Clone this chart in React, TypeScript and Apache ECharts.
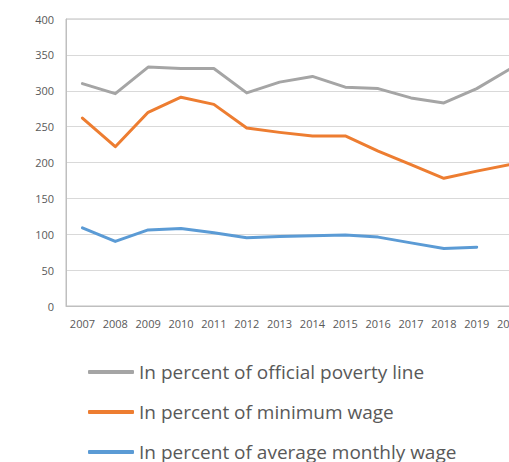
import { useEffect, useRef } from "react";
import * as echarts from "echarts";

const years = ["2007", "2008", "2009", "2010", "2011", "2012", "2013", "2014", "2015", "2016", "2017", "2018", "2019", "2020"];
const povertyLine = [310, 296, 333, 331, 331, 297, 312, 320, 305, 303, 290, 283, 303, 330];
const minimumWage = [262, 222, 270, 291, 281, 248, 242, 237, 237, 216, 197, 178, 188, 197];
const averageWage = [109, 90, 106, 108, 102, 95, 97, 98, 99, 96, 88, 80, 82, null];

const seriesNames = [
  "In percent of official poverty line",
  "In percent of minimum wage",
  "In percent of average monthly wage",
];
const colors = ["#A5A5A5", "#ED7D31", "#5B9BD5"];

const App = () => {
  const chartRef = useRef<HTMLDivElement>(null);

  useEffect(() => {
    if (!chartRef.current) return;
    const chart = echarts.init(chartRef.current, undefined, { renderer: "svg" });

    const lines = [povertyLine, minimumWage, averageWage].map((data, i) => ({
      name: seriesNames[i],
      type: "line",
      data,
      showSymbol: false,
      symbol: "none",
      lineStyle: { color: colors[i], width: 3, cap: "round", join: "round" },
      itemStyle: { color: colors[i] },
    }));

    chart.setOption({
      animation: false,
      backgroundColor: "#ffffff",
      textStyle: { fontFamily: "Open Sans" },
      grid: {
        left: 66,
        top: 19,
        width: 460,
        height: 287,
        show: true,
        borderColor: "#BFBFBF",
        borderWidth: 1,
      },
      legend: {
        orient: "vertical",
        left: 88,
        top: 362,
        padding: 0,
        itemWidth: 46,
        itemHeight: 4,
        itemGap: 20,
        icon: "roundRect",
        textStyle: { color: "#595959", fontSize: 19, lineHeight: 20, fontFamily: "Open Sans" },
        data: seriesNames,
      },
      xAxis: {
        type: "category",
        data: years,
        boundaryGap: true,
        axisLine: { lineStyle: { color: "#BFBFBF" } },
        axisTick: { show: false },
        axisLabel: { color: "#595959", fontSize: 11, margin: 12 },
      },
      yAxis: {
        type: "value",
        min: 0,
        max: 400,
        interval: 50,
        axisLine: { show: true, lineStyle: { color: "#BFBFBF" } },
        axisTick: { show: false },
        axisLabel: { color: "#595959", fontSize: 11, margin: 12 },
        splitLine: { lineStyle: { color: "#D9D9D9" } },
      },
      series: lines,
    });

    return () => {
      chart.dispose();
    };
  }, []);

  return (
    <div style={{ position: "absolute", left: 0, top: 0, width: 509, height: 462, overflow: "hidden", background: "#fff" }}>
      <div ref={chartRef} style={{ width: 560, height: 462 }} />
    </div>
  );
};

export default App;
